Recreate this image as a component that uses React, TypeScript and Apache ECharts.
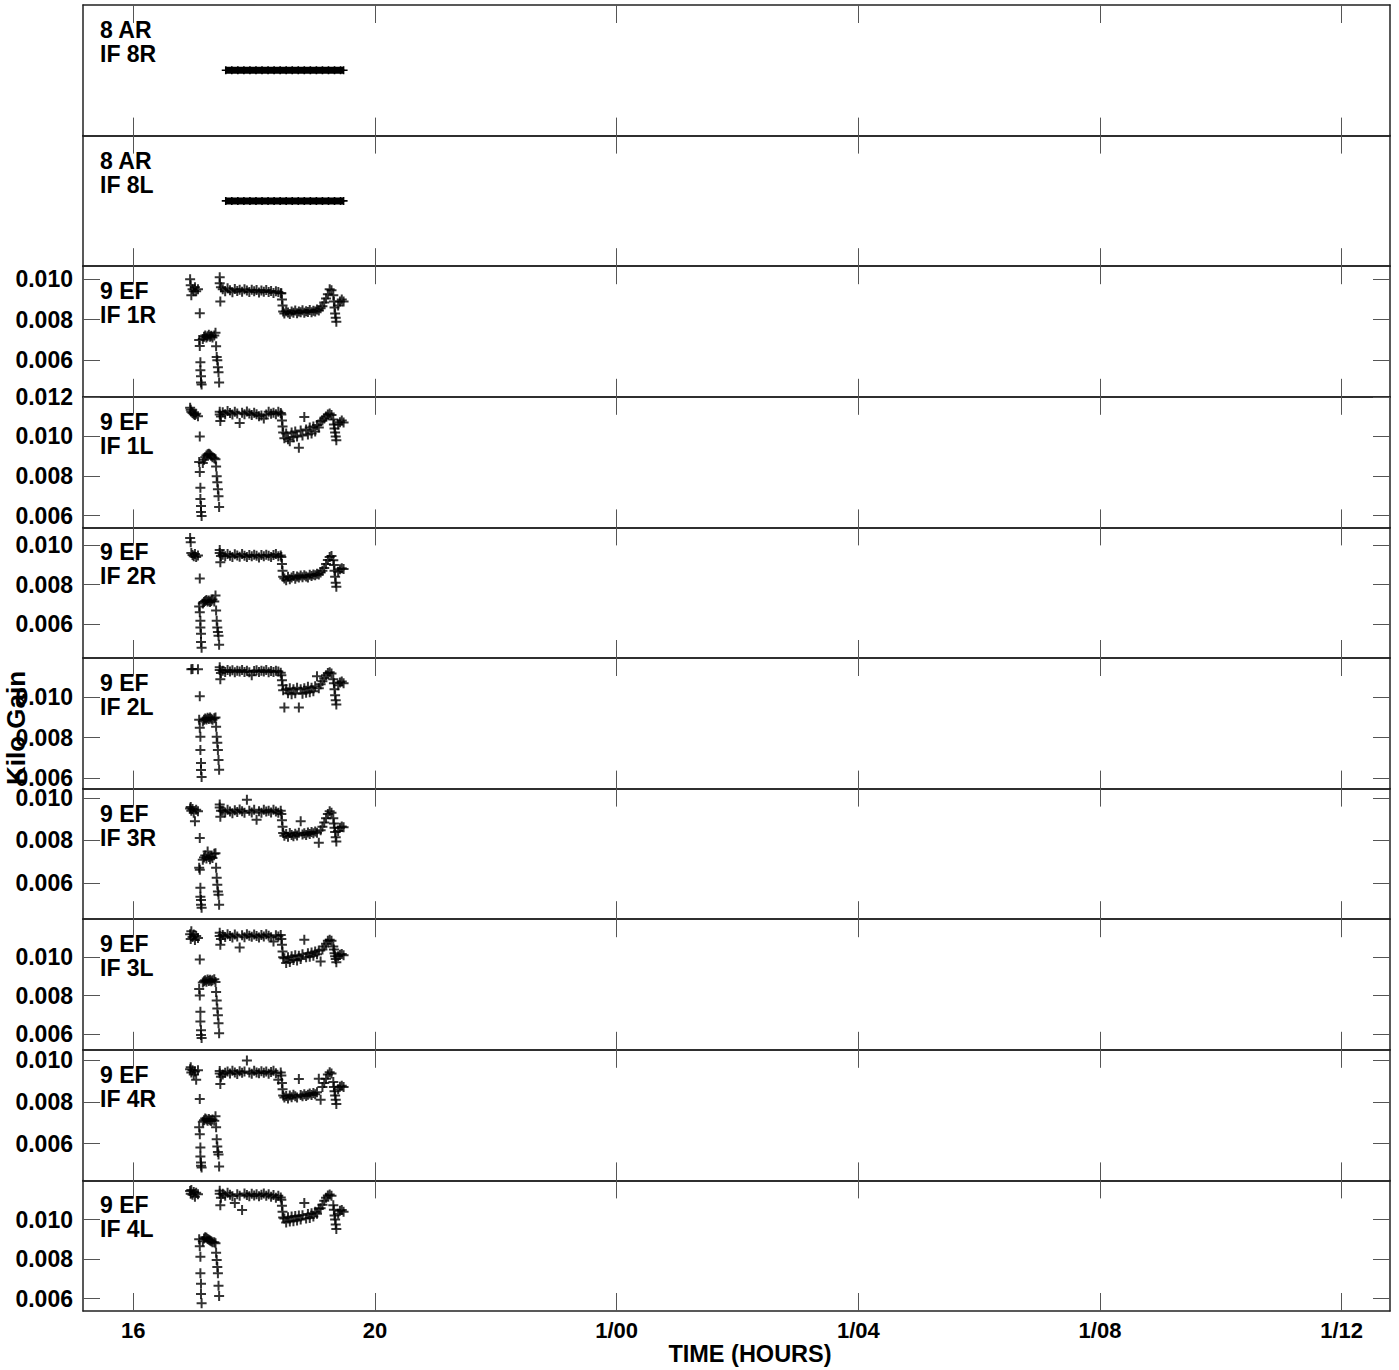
import React, { useEffect, useRef } from "react";
import * as echarts from "echarts";

// ---------- axes ----------
const X_MIN = 15.167;
const X_MAX = 36.8;
const X_TICKS = [16, 20, 24, 28, 32, 36];
const X_TICK_LABELS = ["16", "20", "1/00", "1/04", "1/08", "1/12"];

const STATIONS = ["8 AR", "8 AR", "9 EF", "9 EF", "9 EF", "9 EF", "9 EF", "9 EF", "9 EF", "9 EF"];
const IF_NAMES = ["IF 8R", "IF 8L", "IF 1R", "IF 1L", "IF 2R", "IF 2L", "IF 3R", "IF 3L", "IF 4R", "IF 4L"];

const Y_MIN = [0, 0, 0.00419, 0.0054, 0.00429, 0.00547, 0.0043, 0.00517, 0.00425, 0.00538];
const Y_MAX = [2, 2, 0.01064, 0.012, 0.0109, 0.01195, 0.01044, 0.01198, 0.01048, 0.01198];
const Y_TICKS = [
  [],
  [],
  [0.006, 0.008, 0.01],
  [0.006, 0.008, 0.01, 0.012],
  [0.006, 0.008, 0.01],
  [0.006, 0.008, 0.01],
  [0.006, 0.008, 0.01],
  [0.006, 0.008, 0.01],
  [0.006, 0.008, 0.01],
  [0.006, 0.008, 0.01],
];

// ---------- 8 AR (constant gain) ----------
const AR_TIMES = [17.53, 17.63, 17.73, 17.83, 17.93, 18.03, 18.13, 18.23, 18.33, 18.43, 18.53,
  18.63, 18.73, 18.83, 18.93, 19.03, 19.13, 19.23, 19.33, 19.43, 19.48];
const AR_8R = [1, 1, 1, 1, 1, 1, 1, 1, 1, 1, 1, 1, 1, 1, 1, 1, 1, 1, 1, 1, 1];
const AR_8L = [1, 1, 1, 1, 1, 1, 1, 1, 1, 1, 1, 1, 1, 1, 1, 1, 1, 1, 1, 1, 1];

// ---------- 9 EF sample times (hours) ----------
const EF_TIMES = [
  16.94, 16.95, 16.96, 16.98, 17.0, 17.02, 17.04, 17.07,
  17.1,
  17.09, 17.1, 17.11, 17.11, 17.12, 17.12, 17.13,
  17.15, 17.17, 17.19, 17.21, 17.23, 17.25, 17.27, 17.29, 17.31, 17.34,
  17.36, 17.37, 17.38, 17.39, 17.4, 17.41, 17.42,
  17.43, 17.43, 17.44, 17.45,
  17.48, 17.52, 17.56, 17.6, 17.64, 17.68, 17.72, 17.76, 17.8, 17.84, 17.88, 17.92, 17.96,
  18.0, 18.04, 18.08, 18.12, 18.16, 18.2, 18.24, 18.28, 18.32, 18.36, 18.4, 18.44,
  18.45, 18.46, 18.47, 18.48,
  18.5, 18.53, 18.56, 18.59, 18.62, 18.65, 18.68, 18.71, 18.74, 18.77, 18.8,
  18.83, 18.86, 18.89, 18.92, 18.95, 18.98, 19.01, 19.04, 19.07, 19.1,
  19.13, 19.16, 19.19, 19.22, 19.25, 19.28,
  19.31, 19.32, 19.33, 19.34, 19.35, 19.36,
  19.39, 19.42, 19.45, 19.48,
];

const EF_1R = [
  0.0100, 0.0097, 0.0092, 0.0095, 0.0094, 0.0096, 0.0094, 0.0095,
  0.00832,
  0.0070, 0.0067, 0.0059, 0.0055, 0.0052, 0.0049, 0.0048,
  0.00705, 0.00715, 0.00722, 0.00712, 0.00718, 0.00725, 0.00715, 0.0072, 0.00712, 0.00722,
  0.00735, 0.00669, 0.00615, 0.006, 0.00565, 0.0054, 0.0049,
  0.0101, 0.0098, 0.0089, 0.0096,
  0.0095, 0.0094, 0.00955, 0.00945, 0.00935, 0.00952, 0.00942, 0.00948, 0.00938, 0.0095, 0.00944, 0.00936,
  0.00948, 0.0094, 0.00946, 0.00934, 0.00944, 0.00938, 0.00946, 0.00936, 0.00942, 0.00932, 0.0094, 0.00936, 0.0093,
  0.0093, 0.009, 0.0087, 0.0084,
  0.0083, 0.00842, 0.00835, 0.00828, 0.0084, 0.00834, 0.00845, 0.00832, 0.0084, 0.00836, 0.00846,
  0.00834, 0.00842, 0.00838, 0.00848, 0.00836, 0.00844, 0.0084, 0.0085, 0.00845, 0.00856,
  0.00866, 0.00885, 0.00905, 0.00925, 0.0095, 0.00945,
  0.0092, 0.0089, 0.0086, 0.0083, 0.0081, 0.0079,
  0.0087, 0.0089, 0.009, 0.0089,
];

const EF_1L = [
  0.01145, 0.01135, 0.01125, 0.01118, 0.01112, 0.01108, 0.01114, 0.01102,
  0.0100,
  0.0087, 0.0082, 0.0074, 0.00683, 0.00648, 0.00618, 0.00598,
  0.00865, 0.00882, 0.00895, 0.00903, 0.0091, 0.00912, 0.00908, 0.00902, 0.00895, 0.0089,
  0.00885, 0.00848, 0.00798, 0.00768, 0.00733, 0.00698, 0.00643,
  0.01125, 0.0111, 0.01078, 0.011,
  0.01122, 0.01112, 0.01128, 0.01118, 0.0111, 0.01125, 0.01115, 0.01068, 0.0112, 0.01112, 0.01126, 0.01116,
  0.01108, 0.0112, 0.01112, 0.01102, 0.01105, 0.0109, 0.0111, 0.01124, 0.01114, 0.0112, 0.01112, 0.01125, 0.01118,
  0.0111, 0.0108, 0.0105, 0.0102,
  0.0099, 0.01015, 0.00985, 0.00975, 0.0102, 0.00995, 0.01025, 0.01, 0.00943, 0.0103, 0.01005,
  0.01098, 0.01035, 0.0101, 0.01045, 0.01015, 0.0105, 0.01025, 0.01058, 0.01045, 0.01075,
  0.0108, 0.0109, 0.011, 0.0111, 0.01115, 0.01108,
  0.01085, 0.0106, 0.0104, 0.0102, 0.01, 0.0098,
  0.0106, 0.01072, 0.0108, 0.0107,
];

const EF_2R = [
  0.01036, 0.01015, 0.0096, 0.0095, 0.00944, 0.00956, 0.0094, 0.00948,
  0.00832,
  0.0069, 0.0066, 0.00618, 0.00583, 0.00552, 0.0051, 0.00481,
  0.00705, 0.00712, 0.00718, 0.00722, 0.00715, 0.0072, 0.00712, 0.00718, 0.00725, 0.00715,
  0.00745, 0.00669, 0.00618, 0.00583, 0.0056, 0.00542, 0.00496,
  0.00975, 0.0096, 0.00913, 0.00945,
  0.00952, 0.00944, 0.00956, 0.00946, 0.0094, 0.00954, 0.00948, 0.00942, 0.00955, 0.00947, 0.0094, 0.0095,
  0.00944, 0.00952, 0.00946, 0.00938, 0.0095, 0.00944, 0.00952, 0.00946, 0.0094, 0.0095, 0.00956, 0.00944, 0.00948,
  0.0094, 0.00905, 0.0087, 0.0084,
  0.00832, 0.00822, 0.0084, 0.00828, 0.00836, 0.00844, 0.0083, 0.00842, 0.00836, 0.00846, 0.00838,
  0.00848, 0.00842, 0.00836, 0.0085, 0.00844, 0.00852, 0.00848, 0.00856, 0.00852, 0.00862,
  0.0087, 0.00885, 0.00905, 0.00925, 0.0094, 0.00945,
  0.00924, 0.009, 0.0087, 0.0084, 0.0081, 0.0079,
  0.00865, 0.00878, 0.00883, 0.0088,
];

const EF_2L = [
  null, null, 0.01139, 0.0114, null, null, null, 0.01139,
  0.01005,
  0.00888, 0.00849, 0.00804, 0.00739, 0.00674, 0.00639, 0.00604,
  0.0088, 0.00888, 0.00895, 0.0089, 0.00898, 0.00892, 0.009, 0.00894, 0.00888, 0.00896,
  0.009, 0.00854, 0.00804, 0.00774, 0.00739, 0.00689, 0.0064,
  0.01149, 0.01135, 0.01089, 0.0112,
  0.01132, 0.01125, 0.01136, 0.01128, 0.01134, 0.01124, 0.01132, 0.01128, 0.01136, 0.01126, 0.01132, 0.01124,
  0.0111, 0.0113, 0.01134, 0.01126, 0.01132, 0.01128, 0.01136, 0.01124, 0.0113, 0.01126, 0.01132, 0.01128, 0.01122,
  0.0111, 0.01085, 0.0106, 0.01035,
  0.00949, 0.0104, 0.0102, 0.01045, 0.01015, 0.0104, 0.0102, 0.01048, 0.00949, 0.0104, 0.01018,
  0.01045, 0.01022, 0.01052, 0.01025, 0.01048, 0.0103, 0.01055, 0.01104, 0.01045, 0.01065,
  0.0108, 0.01095, 0.0111, 0.0112, 0.01124, 0.01118,
  0.01089, 0.0107, 0.0104, 0.0101, 0.00985, 0.00964,
  0.0106, 0.01074, 0.01078, 0.0107,
];

const EF_3R = [
  0.0095, 0.00958, 0.0094, 0.00948, 0.0093, 0.0089, 0.00945, 0.00938,
  0.00812,
  0.00672, 0.00662, 0.00578, 0.00536, 0.0052, 0.00498, 0.00484,
  0.0071, 0.0072, 0.0073, 0.00715, 0.00748, 0.00722, 0.00712, 0.00725, 0.00718, 0.00738,
  0.0074, 0.00672, 0.00625, 0.00592, 0.0056, 0.00545, 0.00498,
  0.00969, 0.00955, 0.00912, 0.0094,
  0.0094, 0.00932, 0.00945, 0.00936, 0.00928, 0.00942, 0.00934, 0.00946, 0.00938, 0.0093, 0.00992, 0.0094,
  0.00932, 0.00944, 0.00898, 0.00938, 0.0093, 0.00944, 0.00936, 0.0094, 0.00932, 0.00944, 0.00936, 0.0093, 0.0094,
  0.00925, 0.00895, 0.00865, 0.00835,
  0.00822, 0.0083, 0.00818, 0.00835, 0.00826, 0.0082, 0.00832, 0.00824, 0.00836, 0.0089, 0.00828,
  0.00834, 0.00826, 0.00838, 0.0083, 0.0084, 0.00834, 0.00842, 0.00836, 0.0079, 0.00848,
  0.00865, 0.00885, 0.00905, 0.00925, 0.00937, 0.0093,
  0.00905, 0.0088, 0.0086, 0.0084, 0.00815, 0.00795,
  0.00845, 0.0086, 0.00866, 0.00862,
];

const EF_3L = [
  0.0112, 0.01095, 0.01135, 0.01105, 0.01118, 0.0109, 0.0111, 0.011,
  0.00988,
  0.00834, 0.008, 0.00716, 0.00665, 0.00619, 0.00594, 0.00578,
  0.00868, 0.00875, 0.0088, 0.00872, 0.00884, 0.00876, 0.00882, 0.00874, 0.0088, 0.00885,
  0.0087, 0.00819, 0.00774, 0.00732, 0.00697, 0.00655, 0.00603,
  0.01127, 0.0111, 0.01065, 0.01095,
  0.01115, 0.01105, 0.0112, 0.0111, 0.01102, 0.01118, 0.01108, 0.0105, 0.01114, 0.01104, 0.0112, 0.01112,
  0.01106, 0.01118, 0.0111, 0.01102, 0.01116, 0.01108, 0.0112, 0.01112, 0.01104, 0.01082, 0.01114, 0.01108, 0.01116,
  0.01095, 0.01065, 0.0103, 0.01,
  0.00995, 0.0097, 0.01, 0.00975, 0.01005, 0.00985, 0.0101, 0.00982, 0.01008, 0.0099, 0.01015,
  0.01091, 0.01, 0.0102, 0.01002, 0.01025, 0.01008, 0.0103, 0.01015, 0.01035, 0.00978,
  0.0104, 0.01055, 0.0107, 0.01085, 0.01091, 0.01085,
  0.01055, 0.0104, 0.0102, 0.01005, 0.0099, 0.00973,
  0.01005, 0.01012, 0.01016, 0.0101,
];

const EF_4R = [
  0.00955, 0.00965, 0.0094, 0.0095, 0.0093, 0.00945, 0.00905, 0.0095,
  0.00813,
  0.00678, 0.00645, 0.00582, 0.00539, 0.0051, 0.00495, 0.00486,
  0.00705, 0.00712, 0.0072, 0.00715, 0.0071, 0.00718, 0.00712, 0.00708, 0.00716, 0.0071,
  0.00731, 0.00678, 0.00621, 0.00587, 0.0056, 0.00549, 0.00491,
  0.00947, 0.00935, 0.00885, 0.0092,
  0.0093, 0.00938, 0.00945, 0.00935, 0.00948, 0.0094, 0.00932, 0.00946, 0.00938, 0.00944, 0.00997, 0.0094,
  0.00934, 0.00948, 0.0094, 0.00936, 0.00946, 0.00938, 0.00944, 0.00934, 0.00942, 0.00948, 0.00936, 0.00905, 0.0094,
  0.00925, 0.0089, 0.0086, 0.0083,
  0.0082, 0.00828, 0.00816, 0.0083, 0.00822, 0.00834, 0.00826, 0.0082, 0.00909, 0.00832, 0.00826,
  0.00836, 0.00828, 0.00834, 0.0084, 0.00832, 0.00842, 0.00836, 0.00846, 0.0091, 0.0081,
  0.0087, 0.0089, 0.0091, 0.0093, 0.00941, 0.00935,
  0.00894, 0.0087, 0.0085, 0.0083, 0.0081, 0.00789,
  0.0086, 0.00872, 0.00877, 0.0087,
];

const EF_4L = [
  0.01145, 0.0113, 0.0115, 0.01125, 0.0114, 0.01115, 0.01135, 0.01128,
  null,
  0.00901, 0.00865, 0.00812, 0.00729, 0.00676, 0.00624, 0.00577,
  0.0089, 0.00905, 0.00911, 0.00908, 0.00902, 0.00898, 0.00894, 0.0089, 0.00886, 0.00885,
  0.0088, 0.00833, 0.00796, 0.0076, 0.00729, 0.00666, 0.00614,
  0.01146, 0.0113, 0.01073, 0.0111,
  0.0113, 0.0112, 0.01135, 0.01125, 0.01118, 0.01084, 0.01128, 0.0112, 0.01049, 0.01132, 0.01124, 0.01118,
  0.0113, 0.01122, 0.01128, 0.01118, 0.01126, 0.01132, 0.0112, 0.01128, 0.01116, 0.01124, 0.0111, 0.0112, 0.01112,
  0.011, 0.0107, 0.0104, 0.0101,
  0.01005, 0.00985, 0.01012, 0.0099, 0.01015, 0.00992, 0.01018, 0.00995, 0.0102, 0.01, 0.01022,
  0.01084, 0.01005, 0.01028, 0.01008, 0.01032, 0.01015, 0.0104, 0.0103, 0.01055, 0.01057,
  0.01075, 0.01095, 0.0111, 0.01122, 0.01127, 0.0112,
  0.01073, 0.0105, 0.0102, 0.01, 0.00975, 0.00953,
  0.0103, 0.01045, 0.01049, 0.0104,
];

const EF_PANELS = [EF_1R, EF_1L, EF_2R, EF_2L, EF_3R, EF_3L, EF_4R, EF_4L];

const PLUS =
  "path://M-0.2,-1L0.2,-1L0.2,-0.2L1,-0.2L1,0.2L0.2,0.2L0.2,1L-0.2,1L-0.2,0.2L-1,0.2L-1,-0.2L-0.2,-0.2Z";

const FONT = '"Liberation Sans", Arial, Helvetica, sans-serif';

function buildOption() {
  const TOP0 = 5;
  const PANEL_H = 130.6;
  const LEFT = 83;
  const WIDTH = 1307;
  const grids: any[] = [];
  const xAxes: any[] = [];
  const yAxes: any[] = [];
  const series: any[] = [];
  const graphics: any[] = [];
  const axisLine = { show: true, onZero: false, lineStyle: { color: "#222", width: 1.5 } };
  const tickStyle = { color: "#555", width: 1 };

  for (let i = 0; i < 10; i++) {
    const top = TOP0 + i * PANEL_H;
    grids.push({ left: LEFT, width: WIDTH, top, height: PANEL_H });
    const last = i === 9;
    const xBase = {
      type: "value",
      gridIndex: i,
      min: X_MIN,
      max: X_MAX,
      axisLine,
      splitLine: { show: false },
      axisTick: { show: true, inside: true, length: 18, customValues: X_TICKS, lineStyle: tickStyle },
    };
    xAxes.push({
      ...xBase,
      position: "bottom",
      axisLabel: {
        show: last,
        customValues: X_TICKS,
        formatter: (v: number) => {
          const k = X_TICKS.indexOf(Math.round(v));
          return k >= 0 ? X_TICK_LABELS[k] : "";
        },
        fontFamily: FONT,
        fontWeight: "bold",
        fontSize: 22,
        color: "#000",
        margin: 8,
      },
    });
    xAxes.push({ ...xBase, position: "top", axisLabel: { show: false } });

    const ticks = Y_TICKS[i];
    const hasTicks = ticks.length > 0;
    const yBase = {
      type: "value",
      gridIndex: i,
      min: Y_MIN[i],
      max: Y_MAX[i],
      axisLine,
      splitLine: { show: false },
      axisTick: hasTicks
        ? { show: true, inside: true, length: 17, customValues: ticks, lineStyle: tickStyle }
        : { show: false },
    };
    yAxes.push({
      ...yBase,
      position: "left",
      axisLabel: hasTicks
        ? {
            show: true,
            customValues: ticks,
            formatter: (v: number) => v.toFixed(3),
            fontFamily: FONT,
            fontWeight: "bold",
            fontSize: 23,
            color: "#000",
            margin: 10,
          }
        : { show: false },
    });
    yAxes.push({ ...yBase, position: "right", axisLabel: { show: false } });

    if (i < 2) {
      const vals = i === 0 ? AR_8R : AR_8L;
      series.push({
        type: "line",
        xAxisIndex: 2 * i,
        yAxisIndex: 2 * i,
        data: AR_TIMES.map((t, k) => [t, vals[k]]),
        lineStyle: { color: "#000", width: 7 },
        itemStyle: { color: "#000" },
        symbol: PLUS,
        symbolSize: 8,
        showSymbol: true,
        showAllSymbol: true,
        silent: true,
      });
    } else {
      const vals = EF_PANELS[i - 2];
      const data: number[][] = [];
      EF_TIMES.forEach((t, k) => {
        const v = vals[k];
        if (v !== null && v !== undefined) data.push([t, v]);
      });
      series.push({
        type: "scatter",
        xAxisIndex: 2 * i,
        yAxisIndex: 2 * i,
        data,
        symbol: PLUS,
        symbolSize: 10,
        itemStyle: { color: "#000" },
        silent: true,
      });
    }

    graphics.push({
      type: "text",
      x: 100,
      y: top + 25,
      style: { text: STATIONS[i], fill: "#000", fontFamily: FONT, fontWeight: "bold", fontSize: 23, verticalAlign: "middle" },
    });
    graphics.push({
      type: "text",
      x: 100,
      y: top + 49,
      style: { text: IF_NAMES[i], fill: "#000", fontFamily: FONT, fontWeight: "bold", fontSize: 23, verticalAlign: "middle" },
    });
  }

  graphics.push({
    type: "text",
    x: 750,
    y: 1354,
    style: { text: "TIME (HOURS)", fill: "#000", fontFamily: FONT, fontWeight: "bold", fontSize: 23.5, align: "center", verticalAlign: "middle" },
  });
  graphics.push({
    type: "text",
    x: 16,
    y: 728,
    rotation: Math.PI / 2,
    style: { text: "Kilo Gain", fill: "#000", fontFamily: FONT, fontWeight: "bold", fontSize: 26, align: "center", verticalAlign: "middle" },
  });

  return {
    animation: false,
    backgroundColor: "#fff",
    grid: grids,
    xAxis: xAxes,
    yAxis: yAxes,
    series,
    graphic: graphics,
  };
}

export default function App() {
  const ref = useRef<HTMLDivElement>(null);
  useEffect(() => {
    if (!ref.current) return;
    const chart = echarts.init(ref.current, null, { renderer: "svg" });
    chart.setOption(buildOption() as any);
    return () => chart.dispose();
  }, []);
  return (
    <div
      ref={ref}
      style={{ position: "absolute", left: 0, top: 0, width: 1399, height: 1370, background: "#fff" }}
    />
  );
}
